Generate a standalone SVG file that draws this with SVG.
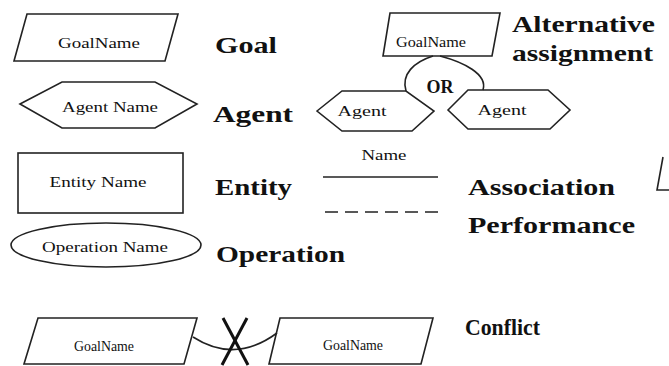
<svg xmlns="http://www.w3.org/2000/svg" width="669" height="366" viewBox="0 0 669 366" font-family="Liberation Serif, DejaVu Serif, serif">
  <style>
    .shape { fill: #fff; stroke: #222; stroke-width: 1.6; stroke-linejoin: miter; }
    .line { fill: none; stroke: #222; stroke-width: 1.6; }
    .small { font-size: 14px; fill: #111; text-anchor: middle; }
    .label { font-size: 24px; font-weight: bold; fill: #111; }
    .or { font-size: 18px; font-weight: bold; fill: #111; text-anchor: middle; }
  </style>
  <rect width="669" height="366" fill="#fff"/>

  <!-- legend: goal -->
  <g id="goal">
    <polygon class="shape" points="27,14 178,14 165,61 14,61"/>
    <text class="small" x="99" y="48" textLength="82" lengthAdjust="spacingAndGlyphs">GoalName</text>
    <text class="label" x="215" y="53" textLength="62" lengthAdjust="spacingAndGlyphs">Goal</text>
  </g>

  <!-- legend: agent -->
  <g id="agent">
    <polygon class="shape" points="20,104 62,82 155,82 197,104 155,128 62,128"/>
    <text class="small" x="110" y="112" textLength="96" lengthAdjust="spacingAndGlyphs">Agent Name</text>
    <text class="label" x="213" y="122" textLength="80" lengthAdjust="spacingAndGlyphs">Agent</text>
  </g>

  <!-- legend: entity -->
  <g id="entity">
    <rect class="shape" x="18" y="153" width="165" height="60"/>
    <text class="small" x="98" y="187" textLength="97" lengthAdjust="spacingAndGlyphs">Entity Name</text>
    <text class="label" x="215" y="195" textLength="77" lengthAdjust="spacingAndGlyphs">Entity</text>
  </g>

  <!-- legend: operation -->
  <g id="operation">
    <ellipse class="shape" cx="106" cy="245" rx="95" ry="22"/>
    <text class="small" x="105" y="252" textLength="126" lengthAdjust="spacingAndGlyphs">Operation Name</text>
    <text class="label" x="216" y="262" textLength="129" lengthAdjust="spacingAndGlyphs">Operation</text>
  </g>

  <!-- alternative assignment: one goal, two candidate agents -->
  <g id="alt-goal">
    <polygon class="shape" points="390,13 500,13 492,56 383,56"/>
    <text class="small" x="431" y="47" textLength="70" lengthAdjust="spacingAndGlyphs">GoalName</text>
  </g>
  <g id="alt-agent-left">
    <polygon class="shape" points="317,111 342,91 406,91 434,111 412,131 342,131"/>
    <text class="small" x="362" y="116" textLength="49" lengthAdjust="spacingAndGlyphs">Agent</text>
  </g>
  <g id="alt-agent-right">
    <polygon class="shape" points="448,110 468,90 548,90 570,110 550,129 468,129"/>
    <text class="small" x="502" y="115" textLength="49" lengthAdjust="spacingAndGlyphs">Agent</text>
  </g>
  <g id="alt-label">
    <text class="label" x="512" y="32" textLength="143" lengthAdjust="spacingAndGlyphs">Alternative</text>
    <text class="label" x="512" y="61" textLength="141" lengthAdjust="spacingAndGlyphs">assignment</text>
  </g>

  <!-- legend: association and performance lines -->
  <g id="association">
    <text class="small" x="384" y="160" textLength="45" lengthAdjust="spacingAndGlyphs">Name</text>
    <text class="label" x="468" y="195" textLength="147" lengthAdjust="spacingAndGlyphs">Association</text>
  </g>
  <g id="performance">
    <text class="label" x="468" y="233" textLength="167" lengthAdjust="spacingAndGlyphs">Performance</text>
  </g>

  <!-- conflict: two goals -->
  <g id="conflict-goal-left">
    <polygon class="shape" points="38,318 197,318 184,364 24,364"/>
    <text class="small" x="104" y="351" textLength="60" lengthAdjust="spacingAndGlyphs">GoalName</text>
  </g>
  <g id="conflict-goal-right">
    <polygon class="shape" points="280,318 433,318 421,364 269,364"/>
    <text class="small" x="353" y="350" textLength="60" lengthAdjust="spacingAndGlyphs">GoalName</text>
  </g>
  <g id="conflict-label">
    <text class="label" x="465" y="335" textLength="75" lengthAdjust="spacingAndGlyphs">Conflict</text>
  </g>

  <!-- partial goal at the right edge -->
  <g id="edge-goal">
    <polyline class="line" points="663,157 657,190 669,190"/>
  </g>

  <g id="connectors">
    <!-- OR refinement bulb -->
    <path class="line" d="M433,56 C414,62 401,74 406,91"/>
    <path class="line" d="M440,56 C463,62 488,74 483,90"/>
    <text class="or" x="440" y="93">OR</text>
    <!-- association line -->
    <line class="line" x1="323" y1="177" x2="438" y2="177"/>
    <!-- performance (dashed) -->
    <line class="line" x1="325" y1="212" x2="438" y2="212" stroke-width="2" stroke-dasharray="13 7"/>
    <!-- conflict link with cross -->
    <path class="line" d="M193,337 Q235,364 277,333"/>
    <line x1="223" y1="318" x2="248" y2="365" stroke="#111" stroke-width="3"/>
    <line x1="247" y1="318" x2="222" y2="365" stroke="#111" stroke-width="3"/>
  </g>
</svg>
